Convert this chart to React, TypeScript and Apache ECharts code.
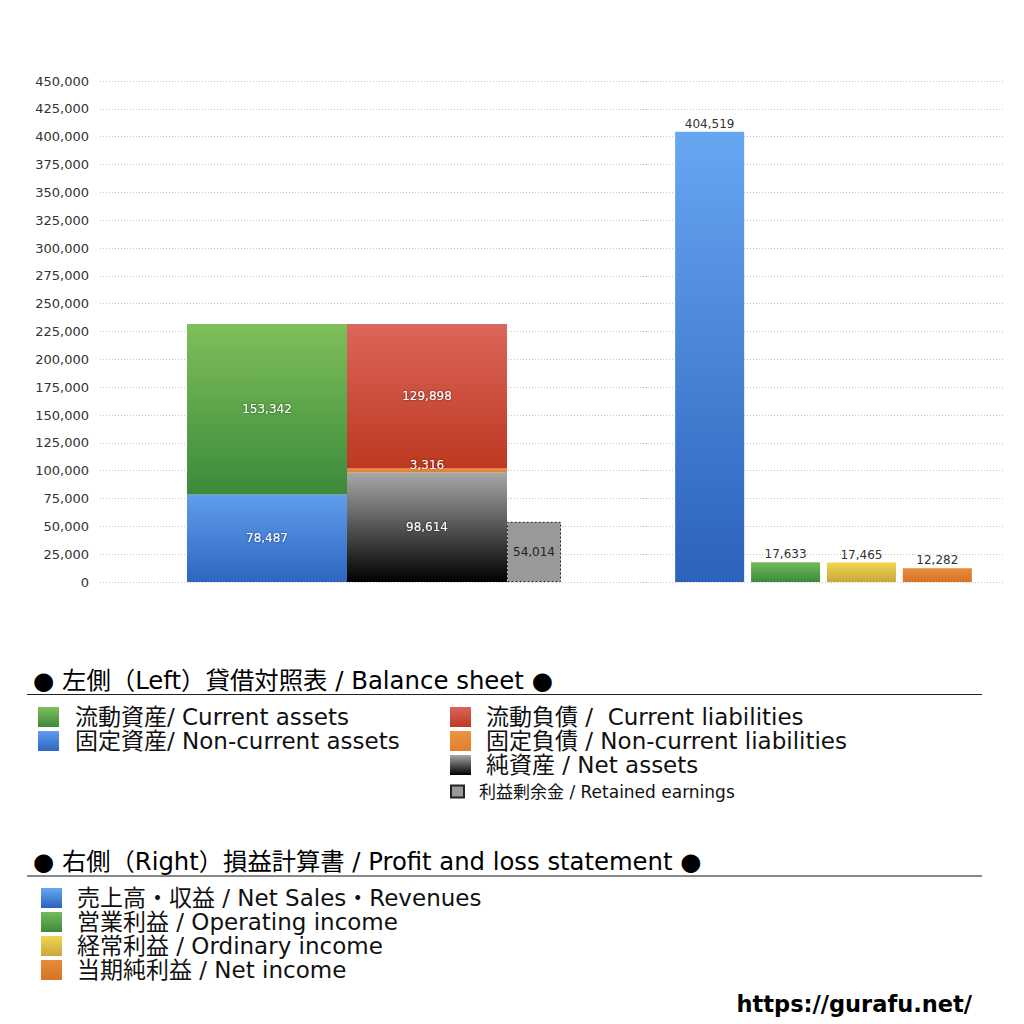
import React, { useEffect, useRef } from 'react';
import * as echarts from 'echarts';

const FONT = '"DejaVu Sans", "Noto Sans CJK JP", sans-serif';

// value axis
const yMin = 0;
const yMax = 450000;
const yInterval = 25000;

// left: balance sheet
const bsCategories = ['貸借対照表'];
const currentAssets = [153342];
const nonCurrentAssets = [78487];
const currentLiabilities = [129898];
const nonCurrentLiabilities = [3316];
const netAssets = [98614];
const retainedEarnings = [54014];

// right: profit and loss
const plCategories = ['損益計算書'];
const netSales = [404519];
const operatingIncome = [17633];
const ordinaryIncome = [17465];
const netIncome = [12282];

const NAME_CA = '流動資産/ Current assets';
const NAME_NCA = '固定資産/ Non-current assets';
const NAME_CL = '流動負債 /  Current liabilities';
const NAME_NCL = '固定負債 / Non-current liabilities';
const NAME_NA = '純資産 / Net assets';
const NAME_RE = '利益剰余金 / Retained earnings';
const NAME_SALES = '売上高・収益 / Net Sales・Revenues';
const NAME_OP = '営業利益 / Operating income';
const NAME_ORD = '経常利益 / Ordinary income';
const NAME_NI = '当期純利益 / Net income';

const HEADER_BS = '● 左側（Left）貸借対照表 / Balance sheet ●';
const HEADER_PL = '● 右側（Right）損益計算書 / Profit and loss statement ●';
const SITE = 'https://gurafu.net/';

const fmt = (v: number) => Number(v).toLocaleString('en-US');

const grad = (top: string, bottom: string) =>
  new echarts.graphic.LinearGradient(0, 0, 0, 1, [
    { offset: 0, color: top },
    { offset: 1, color: bottom },
  ]);

const App: React.FC = () => {
  const chartRef = useRef<HTMLDivElement | null>(null);

  useEffect(() => {
    if (!chartRef.current) return;
    const chart = echarts.init(chartRef.current, null, { renderer: 'svg' });

    const innerLabel = {
      show: true,
      position: 'inside',
      color: '#fff',
      fontSize: 12,
      textShadowColor: 'rgba(0,0,0,0.6)',
      textShadowBlur: 2,
      formatter: (p: any) => fmt(p.value),
    };
    const topLabel = {
      show: true,
      position: 'top',
      distance: 2,
      color: '#333',
      fontSize: 12,
      formatter: (p: any) => fmt(p.value),
    };

    const yAxisBase = {
      type: 'value',
      min: yMin,
      max: yMax,
      interval: yInterval,
      axisLine: { show: false },
      axisTick: { show: false },
      splitLine: { lineStyle: { color: '#c4c4c4', type: [1, 2], width: 1 } },
    };

    const bsBar = { type: 'bar', xAxisIndex: 0, yAxisIndex: 0, barGap: '0%' };
    const plBar = {
      type: 'bar',
      xAxisIndex: 1,
      yAxisIndex: 1,
      barWidth: 69,
      barGap: '10%',
      label: topLabel,
    };

    const legendBase = {
      orient: 'vertical',
      icon: 'rect',
      itemGap: 0,
      padding: 0,
      selectedMode: false,
      itemWidth: 21,
      itemHeight: 20,
    };
    const legendText = (size: number, lh: number, pad: number) => ({
      fontSize: size,
      lineHeight: lh,
      color: '#111',
      fontFamily: FONT,
      padding: [0, 0, 0, pad],
    });

    const option = {
      animation: false,
      backgroundColor: '#fff',
      textStyle: { fontFamily: FONT },
      grid: [
        { left: 100, top: 81, width: 548, height: 501 },
        { left: 642, top: 81, width: 363, height: 501 },
      ],
      xAxis: [
        { type: 'category', gridIndex: 0, data: bsCategories, show: false },
        { type: 'category', gridIndex: 1, data: plCategories, show: false },
      ],
      yAxis: [
        {
          ...yAxisBase,
          gridIndex: 0,
          axisLabel: { formatter: fmt, fontSize: 13, color: '#333', margin: 11 },
        },
        { ...yAxisBase, gridIndex: 1, axisLabel: { show: false } },
      ],
      legend: [
        {
          ...legendBase,
          left: 38,
          top: 705,
          textStyle: legendText(23, 24, 11),
          data: [NAME_CA, NAME_NCA],
        },
        {
          ...legendBase,
          left: 450,
          top: 705,
          textStyle: legendText(23, 24, 10),
          data: [NAME_CL, NAME_NCL, NAME_NA],
        },
        {
          ...legendBase,
          left: 450,
          top: 782,
          itemWidth: 13,
          itemHeight: 12,
          textStyle: legendText(17, 19, 10),
          data: [NAME_RE],
        },
        {
          ...legendBase,
          left: 41,
          top: 886,
          textStyle: legendText(23, 24, 10),
          data: [NAME_SALES, NAME_OP, NAME_ORD, NAME_NI],
        },
      ],
      graphic: [
        {
          type: 'text',
          x: 33,
          y: 680,
          style: { text: HEADER_BS, fontSize: 24.4, fontFamily: FONT, fill: '#000', verticalAlign: 'middle' },
        },
        {
          type: 'line',
          shape: { x1: 27, y1: 694.5, x2: 982, y2: 694.5 },
          style: { stroke: '#222', lineWidth: 1 },
        },
        {
          type: 'text',
          x: 33,
          y: 861,
          style: { text: HEADER_PL, fontSize: 24.3, fontFamily: FONT, fill: '#000', verticalAlign: 'middle' },
        },
        {
          type: 'line',
          shape: { x1: 27, y1: 876, x2: 982, y2: 876 },
          style: { stroke: '#888', lineWidth: 2 },
        },
        {
          type: 'text',
          x: 972,
          y: 1004,
          style: {
            text: SITE,
            fontSize: 22.5,
            fontWeight: 'bold',
            fontFamily: FONT,
            fill: '#000',
            align: 'right',
            verticalAlign: 'middle',
          },
        },
      ],
      series: [
        {
          ...bsBar,
          name: NAME_NCA,
          stack: 'assets',
          barWidth: 160,
          data: nonCurrentAssets,
          itemStyle: { color: grad('#5f9ded', '#2e66c0') },
          label: innerLabel,
        },
        {
          ...bsBar,
          name: NAME_CA,
          stack: 'assets',
          barWidth: 160,
          data: currentAssets,
          itemStyle: { color: grad('#7fbf5b', '#3b8a3a') },
          label: innerLabel,
        },
        {
          ...bsBar,
          name: NAME_NA,
          stack: 'liab',
          barWidth: 160,
          data: netAssets,
          itemStyle: { color: grad('#a8a8a8', '#000000') },
          label: innerLabel,
        },
        {
          ...bsBar,
          name: NAME_NCL,
          stack: 'liab',
          barWidth: 160,
          data: nonCurrentLiabilities,
          itemStyle: { color: grad('#ec9440', '#e07f2c') },
          label: { ...innerLabel, position: 'top', distance: -2 },
        },
        {
          ...bsBar,
          name: NAME_CL,
          stack: 'liab',
          barWidth: 160,
          data: currentLiabilities,
          itemStyle: { color: grad('#db665b', '#bd3820') },
          label: innerLabel,
        },
        {
          ...bsBar,
          name: NAME_RE,
          stack: 'retained',
          barWidth: 54,
          data: retainedEarnings,
          itemStyle: { color: '#999999', borderColor: '#222', borderWidth: 1, borderType: [2, 2] },
          label: { ...innerLabel, color: '#222', textShadowBlur: 0 },
        },
        {
          ...plBar,
          name: NAME_SALES,
          data: netSales,
          itemStyle: { color: grad('#67a7f2', '#2b62bc') },
        },
        {
          ...plBar,
          name: NAME_OP,
          data: operatingIncome,
          itemStyle: { color: grad('#74bb5a', '#3c8a3b') },
        },
        {
          ...plBar,
          name: NAME_ORD,
          data: ordinaryIncome,
          itemStyle: { color: grad('#f0d650', '#c8a83c') },
        },
        {
          ...plBar,
          name: NAME_NI,
          data: netIncome,
          itemStyle: { color: grad('#e68d38', '#d8722a') },
        },
      ],
    };

    chart.setOption(option as any);

    return () => {
      chart.dispose();
    };
  }, []);

  return (
    <div
      ref={chartRef}
      style={{ position: 'absolute', left: 0, top: 0, width: 1024, height: 1024, background: '#fff' }}
    />
  );
};

export default App;
